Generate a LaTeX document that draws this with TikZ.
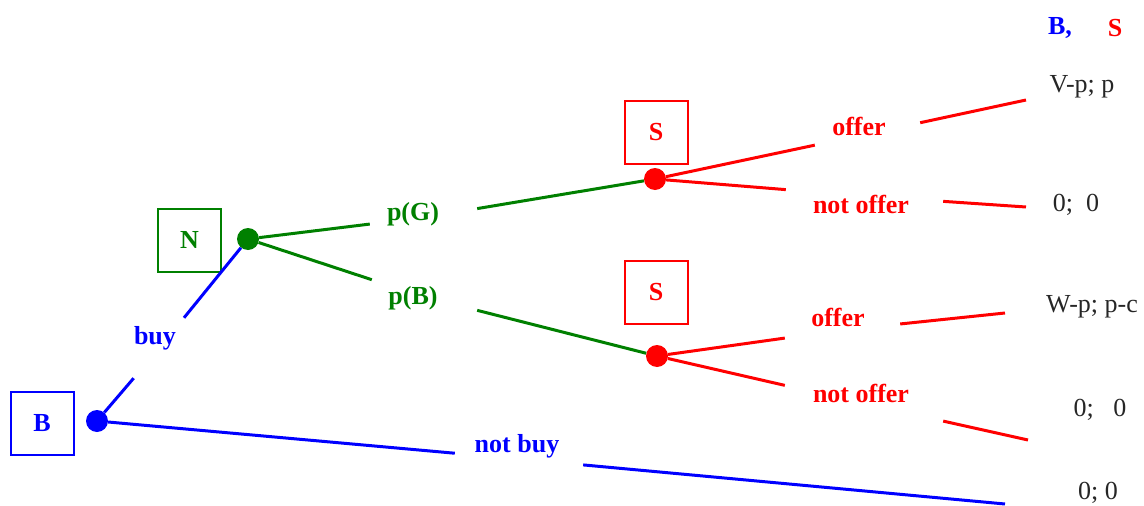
\documentclass[tikz,border=0pt]{standalone}
\usepackage{fontspec}
\setmainfont{Liberation Serif}
\definecolor{gtblue}{RGB}{0,0,255}
\definecolor{gtgreen}{RGB}{0,128,0}
\definecolor{gtred}{RGB}{255,0,0}
\usetikzlibrary{positioning}

\begin{document}
\begin{tikzpicture}[x=1pt,y=-1pt,
    every node/.style={font=\fontsize{26}{30}\selectfont},
    player/.style={draw,line width=2pt,minimum width=63pt,
                   minimum height=63pt,inner sep=0pt,font=\fontsize{26}{30}\selectfont\bfseries},
    dec/.style={circle,fill,minimum size=22pt,inner sep=0pt},
    gap/.style={inner sep=0pt,minimum height=40pt},
    act/.style={font=\fontsize{26}{30}\selectfont\bfseries},
    branch/.style={line width=3pt},
    pay/.style={text=black!85}]

  \useasboundingbox (0,0) rectangle (1144,506);

  % players
  \node[player,gtblue]  (pB)  at (42,423)    {B};
  \node[player,gtgreen] (pN)  at (189.5,240) {N};
  \node[player,gtred]   (pS1) at (656,132.5) {S};
  \node[player,gtred]   (pS2) at (656,292.5) {S};

  % decision nodes
  \node[dec,gtblue]  (dB)   at (97,421)  {};
  \node[dec,gtgreen] (dN)   at (248,239) {};
  \node[dec,gtred]   (dG)   at (655,179) {};
  \node[dec,gtred]   (dBad) at (657,356) {};

  % action labels (gaps in the branches)
  \node[gap,minimum width=54pt,minimum height=60pt,
        label={[act,gtblue,xshift=-4.5pt,yshift=10pt]center:buy}] (buy) at (159.5,348) {};
  \node[gap,minimum width=128pt,
        label={[act,gtblue,xshift=-2pt,yshift=13pt]center:not buy}] (nbuy) at (519,459) {};
  \node[gap,minimum width=107pt,
        label={[act,gtgreen,xshift=-10.5pt,yshift=3.5pt]center:p(G)}] (pG) at (423.5,217.5) {};
  \node[gap,minimum width=105pt,
        label={[act,gtgreen,xshift=-11.5pt,yshift=-1pt]center:p(B)}] (pBad) at (424.5,297) {};
  \node[gap,minimum width=105pt,
        label={[act,gtred,xshift=-8.5pt,yshift=8pt]center:offer}] (offG) at (867.5,134) {};
  \node[gap,minimum width=157pt,
        label={[act,gtred,xshift=-3.5pt,yshift=-8pt]center:not offer}] (noffG) at (864.5,196) {};
  \node[gap,minimum width=115pt,
        label={[act,gtred,xshift=-4.5pt,yshift=13pt]center:offer}] (offB) at (842.5,330) {};
  \node[gap,minimum width=158pt,
        label={[act,gtred,xshift=-3pt,yshift=10.5pt]center:not offer}] (noffB) at (864,403.5) {};

  % branch ends
  \coordinate (eGo) at (1026,100);
  \coordinate (eGn) at (1026,207);
  \coordinate (eBo) at (1005,313);
  \coordinate (eBn) at (1028,440);
  \coordinate (eNb) at (1005,504);

  % payoffs
  \node[act,gtblue] (hB) at (1060,28) {B,};
  \node[act,gtred]  (hS) at (1115,28) {S};
  \node[pay] (uGo) at (1082,87)  {V-p; p};
  \node[pay] (uGn) at (1076,205) {0;\ \ 0};
  \node[pay] (uBo) at (1092,307) {W-p; p-c};
  \node[pay] (uBn) at (1100,410) {0;\ \ \ 0};
  \node[pay] (uNb) at (1098,493) {0; 0};

  \draw[branch,gtblue]  (dB) -- (buy) -- (dN);
  \draw[branch,gtblue]  (dB) -- (nbuy) -- (eNb);
  \draw[branch,gtgreen] (dN) -- (pG) -- (dG);
  \draw[branch,gtgreen] (dN) -- (pBad) -- (dBad);
  \draw[branch,gtred]   (dG) -- (offG) -- (eGo);
  \draw[branch,gtred]   (dG) -- (noffG) -- (eGn);
  \draw[branch,gtred]   (dBad) -- (offB) -- (eBo);
  \draw[branch,gtred]   (dBad) -- (noffB) -- (eBn);
\end{tikzpicture}
\end{document}
